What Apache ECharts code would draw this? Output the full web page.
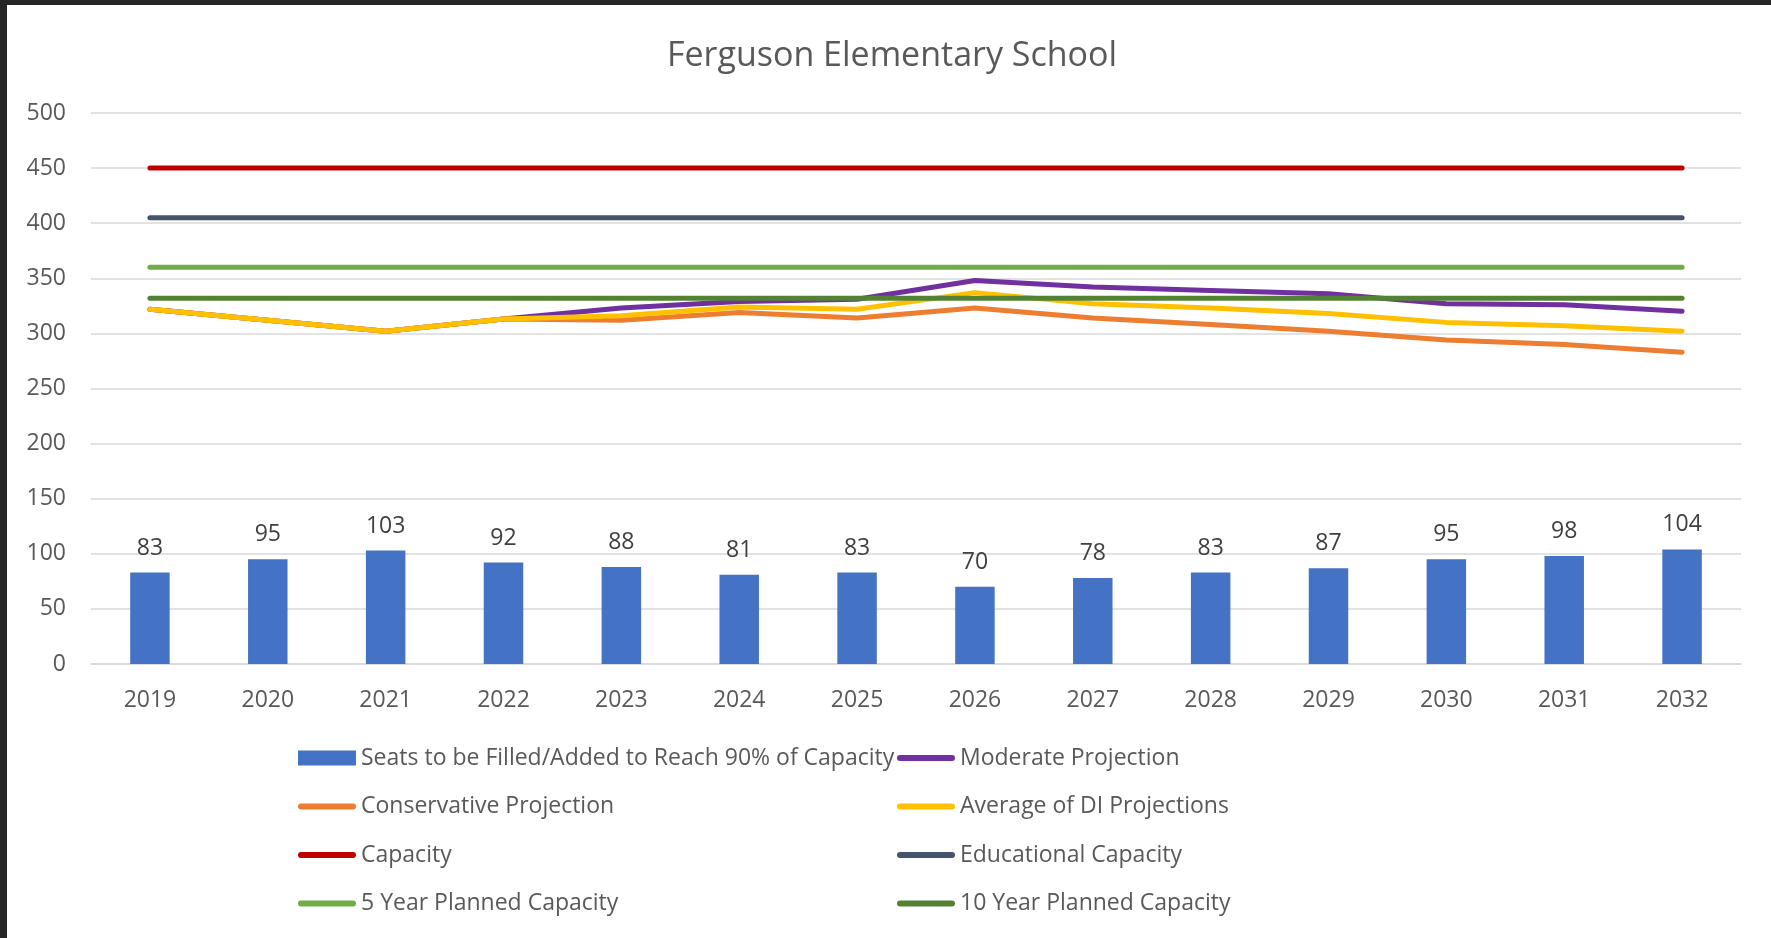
<!DOCTYPE html>
<html>
<head>
<meta charset="utf-8">
<script src="https://cdn.jsdelivr.net/npm/echarts@6/dist/echarts.min.js"></script>
<style>
  html, body { margin: 0; padding: 0; background: #262626; overflow: hidden; }
  #chart { position: absolute; left: 7px; top: 5px; width: 1764px; height: 933px; background: #fff; }
</style>
</head>
<body>
<div id="chart"></div>
<script>
const years = ["2019","2020","2021","2022","2023","2024","2025","2026","2027","2028","2029","2030","2031","2032"];
const seatsToFill = [83, 95, 103, 92, 88, 81, 83, 70, 78, 83, 87, 95, 98, 104];
const moderate = [322, 312, 302, 313, 323, 329, 331, 348, 342, 339, 336, 327, 326, 320];
const conservative = [322, 312, 302, 313, 312, 319, 314, 323, 314, 308, 302, 294, 290, 283];
const averageDI = [322, 312, 302, 313, 316, 324, 322, 337, 327, 323, 318, 310, 307, 302];
const capacity = [450, 450, 450, 450, 450, 450, 450, 450, 450, 450, 450, 450, 450, 450];
const educationalCapacity = [405, 405, 405, 405, 405, 405, 405, 405, 405, 405, 405, 405, 405, 405];
const fiveYearPlanned = [360, 360, 360, 360, 360, 360, 360, 360, 360, 360, 360, 360, 360, 360];
const tenYearPlanned = [332, 332, 332, 332, 332, 332, 332, 332, 332, 332, 332, 332, 332, 332];

const FONT = "'Open Sans', 'Noto Sans', sans-serif";
const LABEL = "#595959";
// flat bar with round ends, used as legend key for the line series
const LINE_ICON = "path://M3,0 H55 A3,3 0 0 1 55,6 H3 A3,3 0 0 1 3,0 Z";

const chart = echarts.init(document.getElementById("chart"), null, { renderer: "canvas" });

function lineSeries(name, data, color){
  return {
    name,
    type: "line",
    data,
    symbol: "none",
    lineStyle: { width: 5, color, cap: "round", join: "round" },
    itemStyle: { color },
    emphasis: { disabled: true },
    animation: false
  };
}

function legendItem(name, icon){
  return { name, icon: icon || LINE_ICON };
}

const legendBase = {
  orient: "vertical",
  itemWidth: 58,
  itemHeight: 15,
  itemGap: 24.5,
  textStyle: { fontFamily: FONT, fontSize: 23, color: LABEL, lineHeight: 24 },
  selectedMode: false
};

chart.setOption({
  animation: false,
  backgroundColor: "#fff",
  title: {
    text: "Ferguson Elementary School",
    left: 880,
    top: 29,
    textAlign: "center",
    textStyle: { fontFamily: FONT, fontSize: 34, fontWeight: "normal", color: LABEL }
  },
  legend: [
    Object.assign({}, legendBase, {
      left: 286, top: 736,
      data: [
        legendItem("Seats to be Filled/Added to Reach 90% of Capacity", "rect"),
        legendItem("Conservative Projection"),
        legendItem("Capacity"),
        legendItem("5 Year Planned Capacity")
      ]
    }),
    Object.assign({}, legendBase, {
      left: 885, top: 736,
      data: [
        legendItem("Moderate Projection"),
        legendItem("Average of DI Projections"),
        legendItem("Educational Capacity"),
        legendItem("10 Year Planned Capacity")
      ]
    })
  ],
  grid: { left: 84, right: 30, top: 108, bottom: 274, containLabel: false },
  xAxis: {
    type: "category",
    data: years,
    axisLine: { show: true, lineStyle: { color: "#d9d9d9", width: 1.5 } },
    axisTick: { show: false },
    axisLabel: { fontFamily: FONT, fontSize: 23, color: LABEL, margin: 25 }
  },
  yAxis: {
    type: "value",
    min: 0,
    max: 500,
    interval: 50,
    axisLine: { show: false },
    axisTick: { show: false },
    axisLabel: { fontFamily: FONT, fontSize: 23, color: LABEL, margin: 25 },
    splitLine: { lineStyle: { color: "#d9d9d9", width: 1.5 } }
  },
  series: [
    {
      name: "Seats to be Filled/Added to Reach 90% of Capacity",
      type: "bar",
      data: seatsToFill,
      barWidth: "33.5%",
      itemStyle: { color: "#4472c4" },
      label: {
        show: true,
        position: "top",
        distance: 13,
        fontFamily: FONT,
        fontSize: 23,
        color: "#404040"
      }
    },
    lineSeries("Moderate Projection", moderate, "#7030a0"),
    lineSeries("Conservative Projection", conservative, "#ed7d31"),
    lineSeries("Average of DI Projections", averageDI, "#ffc000"),
    lineSeries("Capacity", capacity, "#c00000"),
    lineSeries("Educational Capacity", educationalCapacity, "#44546a"),
    lineSeries("5 Year Planned Capacity", fiveYearPlanned, "#70ad47"),
    lineSeries("10 Year Planned Capacity", tenYearPlanned, "#548235")
  ]
});

window.addEventListener("resize", () => chart.resize());
</script>
</body>
</html>
